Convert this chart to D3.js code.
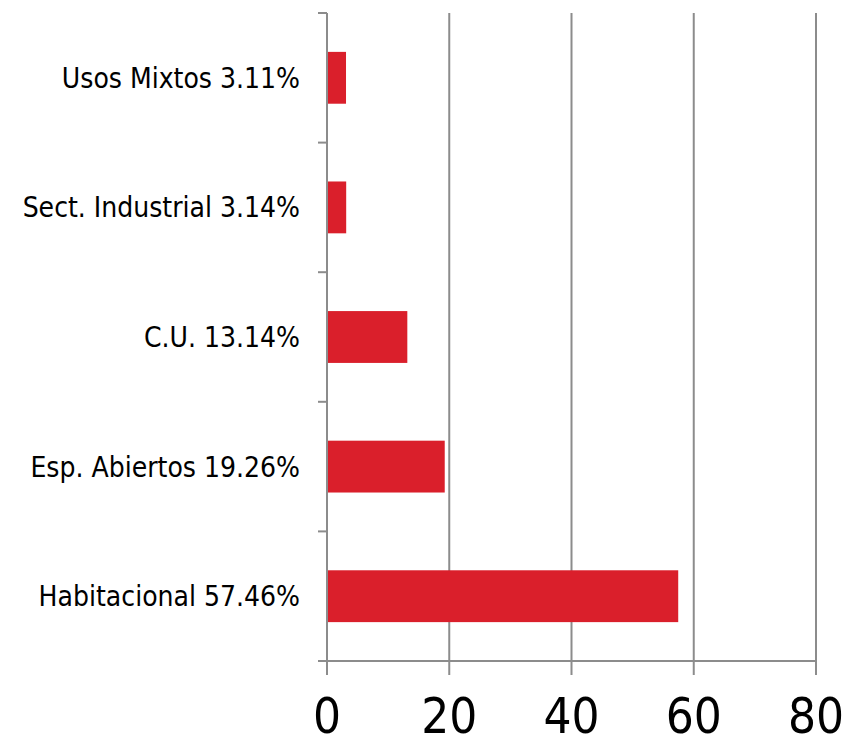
<!DOCTYPE html>
<html>
<head>
<meta charset="utf-8">
<script src="https://cdn.jsdelivr.net/npm/d3@7"></script>
<style>
  body { margin: 0; background: #fff; }
  svg text { font-family: "DejaVu Sans Condensed", "DejaVu Sans", sans-serif; fill: #000; }
  svg text.xt { font-family: "Liberation Sans Narrow", "DejaVu Sans Condensed", sans-serif; }
</style>
</head>
<body>
<svg id="chart" width="844" height="738"></svg>
<script>
var categories = ["Usos Mixtos 3.11%", "Sect. Industrial 3.14%", "C.U. 13.14%", "Esp. Abiertos 19.26%", "Habitacional 57.46%"];
var values = [3.11, 3.14, 13.14, 19.26, 57.46];
var xTicks = [0, 20, 40, 60, 80];

var margin = {top: 13, left: 327, right: 28, bottom: 77};
var width = 844 - margin.left - margin.right, height = 738 - margin.top - margin.bottom;

var svg = d3.select("#chart");
var g = svg.append("g").attr("transform", "translate(" + margin.left + "," + margin.top + ")");

var x = d3.scaleLinear().domain([0, 80]).range([0, width]);
var y = d3.scaleBand().domain(categories).range([0, height]).paddingInner(0.6).paddingOuter(0.3);

// gridlines
g.selectAll("line.grid").data(xTicks.slice(1)).enter().append("line")
	.attr("class", "grid")
	.attr("x1", function(d){ return x(d); }).attr("x2", function(d){ return x(d); })
	.attr("y1", 0).attr("y2", height + 14)
	.attr("stroke", "#8c8c8c").attr("stroke-width", 2);

// bars
g.selectAll("rect.bar").data(values).enter().append("rect")
	.attr("class", "bar")
	.attr("x", x(0))
	.attr("y", function(d, i){ return y(categories[i]); })
	.attr("width", function(d){ return x(d) - x(0); })
	.attr("height", y.bandwidth())
	.attr("fill", "#da1f2b");

// category ticks on y axis (band boundaries)
var bounds = d3.range(categories.length + 1).map(function(i){ return i * height / categories.length; });
g.selectAll("line.ytick").data(bounds).enter().append("line")
	.attr("x1", -9).attr("x2", 0)
	.attr("y1", function(d){ return d; }).attr("y2", function(d){ return d; })
	.attr("stroke", "#8c8c8c").attr("stroke-width", 2);

// y axis line
g.append("line").attr("x1", 0).attr("x2", 0).attr("y1", 0).attr("y2", height + 14)
	.attr("stroke", "#8c8c8c").attr("stroke-width", 2);
// x axis line
g.append("line").attr("x1", -9).attr("x2", width).attr("y1", height).attr("y2", height)
	.attr("stroke", "#8c8c8c").attr("stroke-width", 2);

// category labels
g.selectAll("text.cat").data(categories).enter().append("text")
	.attr("class", "cat")
	.attr("x", -27)
	.attr("y", function(d){ return y(d) + y.bandwidth() / 2; })
	.attr("dy", "0.36em")
	.attr("text-anchor", "end")
	.attr("font-size", 28)
	.text(function(d){ return d; });

// x tick labels
g.selectAll("text.xt").data(xTicks).enter().append("text")
	.attr("class", "xt")
	.attr("x", function(d){ return x(d); })
	.attr("y", height + 72)
	.attr("text-anchor", "middle")
	.attr("font-size", 49)
	.text(function(d){ return d; });
</script>
</body>
</html>
